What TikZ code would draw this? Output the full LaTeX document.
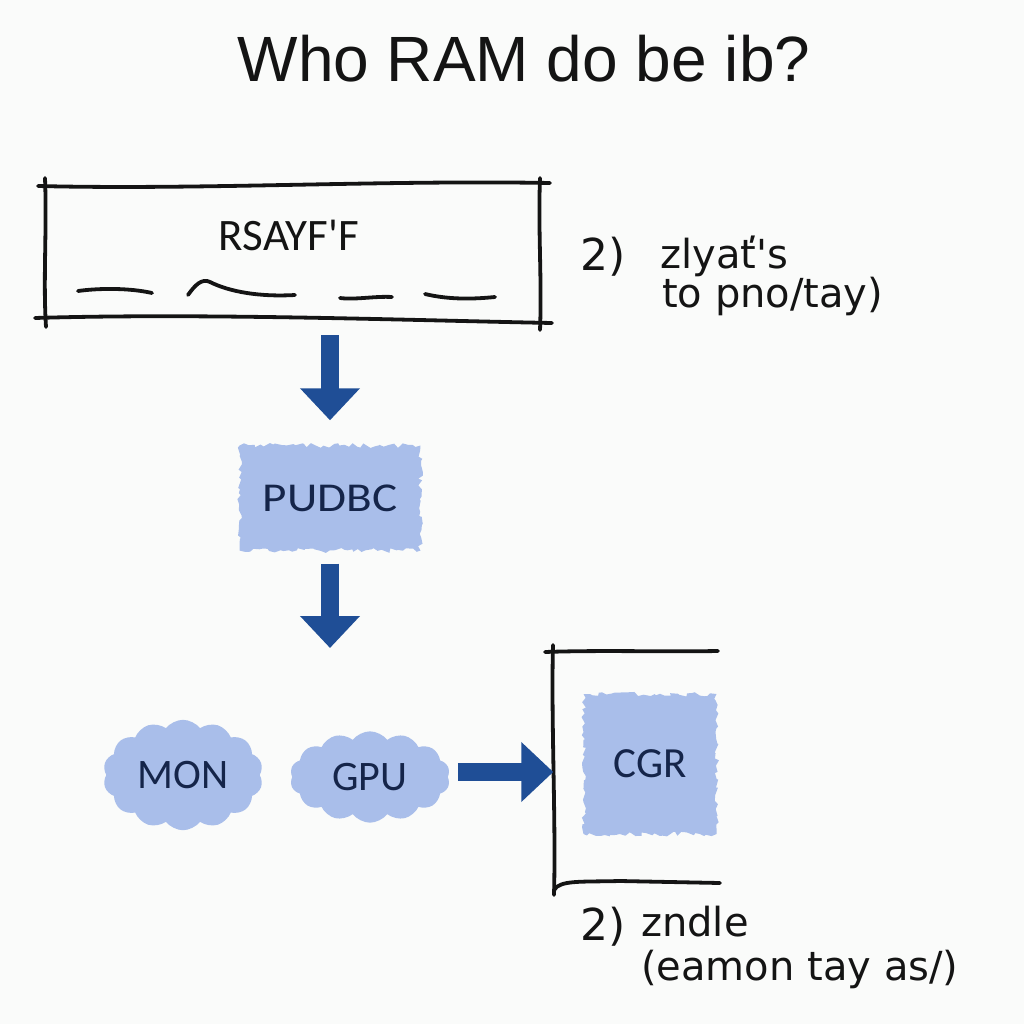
\documentclass[tikz,border=0pt]{standalone}
\usepackage{fontspec}
\setmainfont{Liberation Sans}
\newfontfamily\lab{Carlito}
\newfontfamily\labw[FakeStretch=1.15]{Carlito}
\newfontfamily\dv{DejaVu Sans}
\usetikzlibrary{shapes.symbols,decorations.pathmorphing,arrows.meta}
\definecolor{bg}{HTML}{FAFBFA}
\definecolor{blob}{HTML}{A9BEEA}
\definecolor{navy}{HTML}{15254A}
\definecolor{arr}{HTML}{1F4E96}
\definecolor{ink}{HTML}{141414}
\begin{document}
\begin{tikzpicture}[x=1pt,y=-1pt,
  pen/.style={draw=ink,line width=3.8pt,line cap=round,line join=round},
  roughblob/.style={fill=blob,decorate,decoration={random steps,segment length=4pt,amplitude=2.5pt},inner sep=0pt,text=navy},
  puff/.style={cloud,cloud puffs=14,cloud puff arc=105,aspect=1.3,fill=blob,draw=none,inner sep=0pt,text=navy,font=\lab\fontsize{42}{48}\selectfont},
  blockarrow/.style={draw=arr,line width=18pt,-{Triangle[length=32pt,width=58pt]}},
  lbl/.style={inner sep=0pt,anchor=base west,font=\dv\fontsize{40}{44}\selectfont,text=ink}
]
\fill[bg] (0,0) rectangle (1024,1024);
\useasboundingbox (0,0) rectangle (1024,1024);

\node[font=\fontsize{64}{70}\selectfont, anchor=base, inner sep=0pt, text=ink] (title) at (524,82) {Who RAM do be ib?};

% top box
\node[minimum width=495pt, minimum height=134pt, inner sep=0pt] (box) at (292,251) {};
\draw[pen] (38,186) .. controls (200,190) and (380,180) .. (550,183);
\draw[pen] (35,318) .. controls (200,313) and (400,320) .. (552,323);
\draw[pen] (45,178) .. controls (47,230) and (43,280) .. (46,327);
\draw[pen] (540,178) .. controls (538,230) and (542,280) .. (540,330);
\node[font=\lab\fontsize{45}{50}\selectfont, anchor=base, inner sep=0pt, text=ink] (rsay) at (289,250) {RSAYF'F};
\draw[pen] (78,291) .. controls (100,288) and (130,288) .. (152,293);
\draw[pen] (188,295) .. controls (195,285) and (202,278) .. (210,282) .. controls (230,292) and (260,297) .. (295,295);
\draw[pen] (340,298) .. controls (355,300) and (375,296) .. (392,297);
\draw[pen] (425,294) .. controls (450,300) and (475,299) .. (495,297);

% PUDBC
\node[roughblob, minimum width=181pt, minimum height=105pt, font=\labw\fontsize{41}{44}\selectfont] (pudbc) at (330,498) {PUDBC};
\draw[blockarrow, shorten <=17pt, shorten >=25pt] (pudbc.north |- box.south) -- (pudbc.north);
\coordinate (a2end) at (330,648);
\draw[blockarrow, shorten <=13pt] (pudbc.south) -- (a2end);

% clouds
\node[puff, minimum width=160pt, minimum height=0pt] (mon) at (183,775) {MON};
\node[puff, minimum width=160pt, minimum height=0pt] (gpu) at (370,777) {GPU};

% frame with CGR
\node[minimum width=165pt, minimum height=238pt, inner sep=0pt] (frame) at (636,772) {};
\draw[pen] (553,645) .. controls (551,720) and (556,820) .. (554,895);
\draw[pen] (545,652) .. controls (600,650) and (660,652) .. (718,651);
\draw[pen] (554,890) .. controls (560,880) and (580,882) .. (620,881) -- (720,883);
\node[roughblob, minimum width=133pt, minimum height=140pt, font=\lab\fontsize{43}{48}\selectfont] (cgr) at (650,764) {CGR};
\draw[blockarrow, shorten <=10pt] (gpu.east |- frame.west) -- (frame.west);

% notes
\node[lbl, font=\dv\fontsize{44}{48}\selectfont] (n1) at (580,270) {2)};
\node[lbl] (t1a) at (660,268) {zlyať's};
\node[lbl] (t1b) at (662,307) {to pno/tay)};
\node[lbl, font=\dv\fontsize{44}{48}\selectfont] (n2) at (580,940) {2)};
\node[lbl] (t2a) at (641,936) {zndle};
\node[lbl] (t2b) at (641,980) {(eamon tay as/)};
\end{tikzpicture}
\end{document}
